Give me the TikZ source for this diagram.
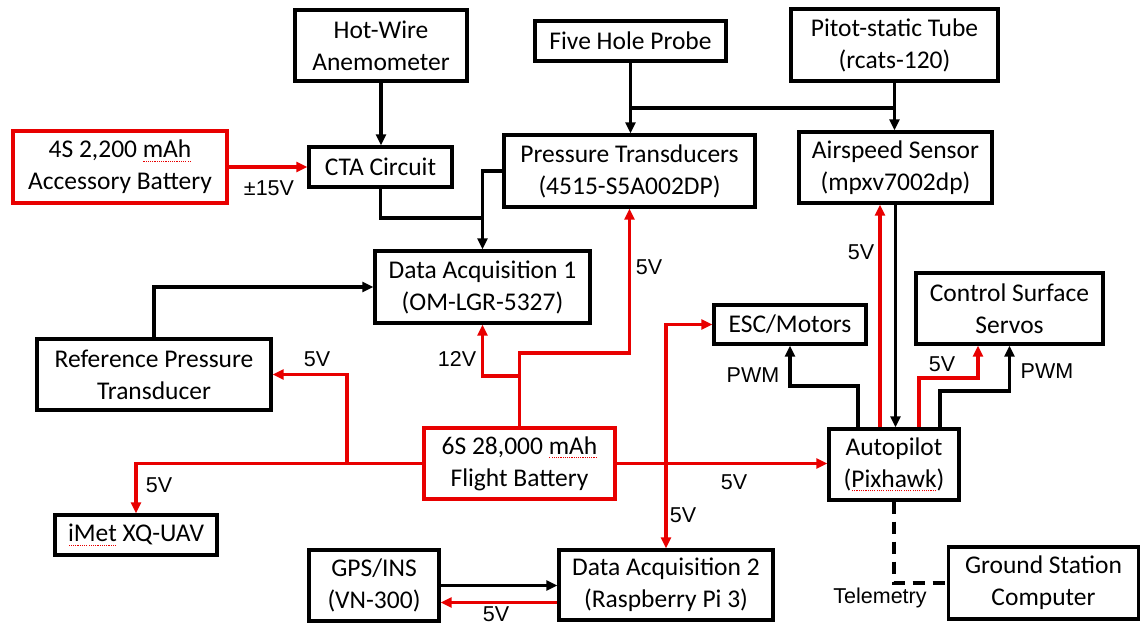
\documentclass[tikz,border=0pt]{standalone}
\usepackage{fontspec}
\setmainfont{Carlito}
\newfontfamily\lab{Liberation Sans}
\usetikzlibrary{arrows.meta}
\definecolor{pwr}{RGB}{232,0,0}
\newsavebox\sqbox
\newcommand\sq[1]{\sbox\sqbox{#1}\rlap{\usebox\sqbox}\raisebox{-4pt}{\textcolor{pwr}{\hbox to \wd\sqbox{\xleaders\hbox to 2.2pt{\hss\rule{1.1pt}{1.1pt}\hss}\hfill}}}}
\begin{document}
\begin{tikzpicture}[x=1pt,y=-1pt,
  box/.style={draw, line width=3.4pt, inner sep=0pt, align=center, font=\fontsize{25.5}{32}\selectfont},
  pbox/.style={box, draw=pwr},
  sig/.style={line width=3.4pt, -{Triangle[length=11pt,width=10pt]}},
  wire/.style={line width=3.4pt},
  pw/.style={sig, color=pwr},
  lbl/.style={font=\lab\fontsize{21.5}{24}\selectfont, inner sep=0pt}]
\useasboundingbox (0,0) rectangle (1143,628);
% nodes
\node[box, minimum width=172pt, minimum height=71pt] (hw) at (381,45.5) {Hot-Wire\\Anemometer};
\node[pbox, minimum width=214pt, minimum height=72pt] (acc) at (120,167) {4S 2,200 \sq{mAh}\\Accessory Battery};
\node[box, minimum width=143pt, minimum height=40pt] (cta) at (380.5,167) {CTA Circuit};
\node[box, minimum width=191pt, minimum height=40pt] (fhp) at (630.5,41) {Five Hole Probe};
\node[box, minimum width=207pt, minimum height=72pt] (pitot) at (894.5,45) {Pitot-static Tube\\(rcats-120)};
\node[box, minimum width=251pt, minimum height=72pt] (pt) at (629.5,171) {Pressure Transducers\\(4515-S5A002DP)};
\node[box, minimum width=193pt, minimum height=71pt] (as) at (895.5,167.5) {Airspeed Sensor\\(mpxv7002dp)};
\node[box, minimum width=215pt, minimum height=72pt] (daq1) at (482.5,287) {Data Acquisition 1\\(OM-LGR-5327)};
\node[box, minimum width=234pt, minimum height=71pt] (rpt) at (154,374.5) {Reference Pressure\\Transducer};
\node[box, minimum width=152pt, minimum height=39pt] (esc) at (790,324.5) {ESC/Motors};
\node[box, minimum width=187pt, minimum height=71pt] (css) at (1009.5,308.5) {Control Surface\\Servos};
\node[pbox, minimum width=191pt, minimum height=71pt] (bat) at (519.5,463.5) {6S 28,000 \sq{mAh}\\Flight Battery};
\node[box, minimum width=130pt, minimum height=71pt] (ap) at (894,464.5) {Autopilot\\(\sq{Pixhawk})};
\node[box, minimum width=162pt, minimum height=40pt] (imet) at (136,535) {\sq{iMet} XQ-UAV};
\node[box, minimum width=130pt, minimum height=71pt] (gps) at (374,585.5) {GPS/INS\\(VN-300)};
\node[box, minimum width=214pt, minimum height=70pt] (daq2) at (666,585) {Data Acquisition 2\\(Raspberry Pi 3)};
\node[box, minimum width=190pt, minimum height=72pt] (gsc) at (1043.5,583) {Ground Station\\Computer};
% signal connectors
\draw[sig] (hw.south) -- (hw.south |- cta.north);
\coordinate (m1) at (482.5,218);
\draw[sig] (cta.south) |- (m1) -- (daq1.north);
\draw[wire] (pt.west) -| (m1);
\draw[sig] (fhp.south) -- (fhp.south |- pt.north);
\draw[sig] (pitot.south) -- (pitot.south |- as.north);
\coordinate (j1) at (630.5,108);
\coordinate (j2) at (894.5,108);
\draw[wire] (j1) -- (j2);
\draw[sig] (rpt.north) |- (daq1.west);
\draw[sig] (as.south) -- (as.south |- ap.north);
\draw[sig] ([xshift=-36pt]ap.north) -- ++(0,-41.5) -| (esc.south);
\draw[sig] ([xshift=46pt]ap.north) -- ++(0,-36.5) -| (css.south);
\draw[sig] (gps.east) -- (gps.east -| daq2.west);
\draw[wire, dash pattern=on 12pt off 8pt] (ap.south) |- (gsc.west);
% power connectors
\draw[pw] (acc.east) -- (cta.west);
\coordinate (b1) at (519.5,353);
\draw[pw] (bat.north) -- (b1) -| (pt.south);
\coordinate (b2) at (519.5,376);
\draw[pw] (b2) -| (daq1.south);
\draw[pw] (bat.west) -| (imet.north);
\coordinate (b3) at (347,463.5);
\draw[pw] (b3) |- (rpt.east);
\draw[pw] (bat.east) -- (bat.east -| ap.west);
\draw[pw, {Triangle[length=11pt,width=10pt]}-{Triangle[length=11pt,width=10pt]}] (esc.west) -| (daq2.north);
\draw[pw] ([xshift=-14pt]ap.north) -- ([xshift=-14pt]ap.north |- as.south);
\draw[pw] ([xshift=25pt]ap.north) -- ++(0,-49.5) -| ([xshift=-31.5pt]css.south);
\coordinate (r1) at ([yshift=-17.5pt]daq2.west);
\draw[pw] (r1) -- (r1 -| gps.east);
% labels
\node[lbl] at (269,188) {±15V};
\node[lbl] at (649,267) {5V};
\node[lbl] at (457,359) {12V};
\node[lbl] at (317,359) {5V};
\node[lbl] at (159,485) {5V};
\node[lbl] at (734,482) {5V};
\node[lbl] at (683,515) {5V};
\node[lbl] at (861,252) {5V};
\node[lbl] at (942,364) {5V};
\node[lbl] at (753,375) {PWM};
\node[lbl] at (1047,371) {PWM};
\node[lbl] at (496,614) {5V};
\node[lbl] at (880,598) {Telemetry};
\end{tikzpicture}
\end{document}
